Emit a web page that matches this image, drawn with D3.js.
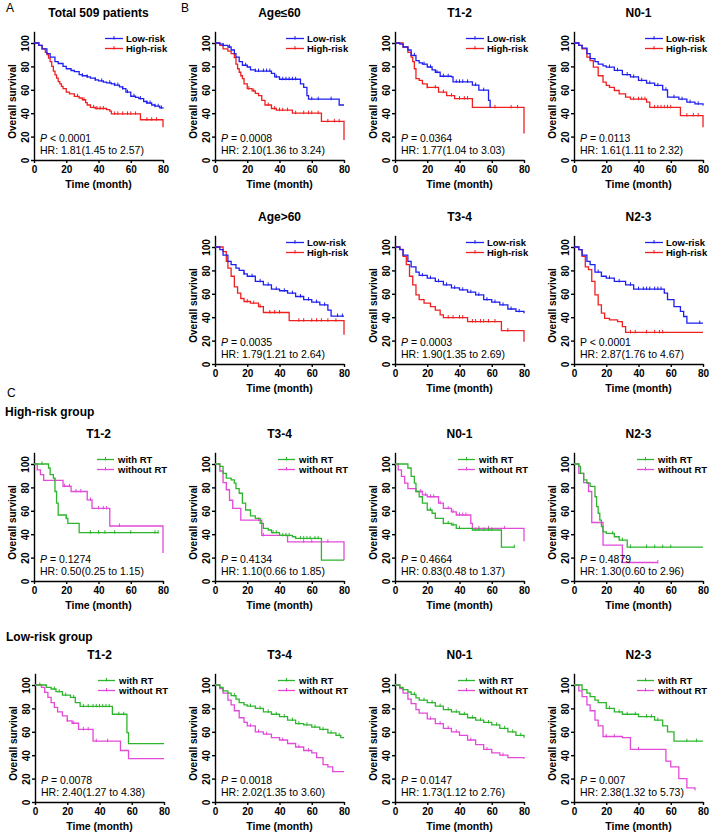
<!DOCTYPE html>
<html>
<head>
<meta charset="utf-8">
<script src="https://cdn.jsdelivr.net/npm/d3@7"></script>
<style>
body { margin: 0; background: #fff; }
text { font-family: "Liberation Sans", Arial, sans-serif; }
</style>
</head>
<body>
<div id="chart"></div>
<script>
// tick values
var xTicks = [0, 20, 40, 60, 80];
var yTicks = [0, 20, 40, 60, 80, 100];

// A: all patients (time in months, survival %)
var aLow = [[0,100],[3,98],[5,95],[8,91],[10,88],[13,84],[15,82.5],[18,80],[20,78],[23,76.5],[25,75.5],[28,73],[30,72],[33,71],[35,70],[38,68.5],[40,67.6],[43,66.5],[45,66],[48,65],[50,64],[53,62.5],[55,61],[57,58],[60,54.5],[63,53.5],[65,52.5],[68,50],[70,48.7],[73,47],[75,46],[78,44.5],[80,44]];
var aHigh = [[0,100],[3,98],[5,95],[7,92],[8,90],[9,87],[10,84],[11,80],[12,76],[13,72.7],[14,70],[15,67],[16,65],[17,63],[18,61],[20,58],[22,56.5],[25,54.4],[28,53],[30,51.5],[32,49],[33,47],[35,45],[38,44],[45,43],[47,41.7],[48,39.4],[66,34.4],[80,28]];
var aLowCens = [30,33,38,42,47,50,52,55,58,62,66,70,72,75,77,79];
var aHighCens = [27,31,37,39,41,43,50,52,55,58,60,63,70,73,76];

// B: Age<=60
var b1Low = [[0,100],[3,99],[5,98],[8,96.6],[10,94],[12,91],[13,88],[15,84],[17,81],[20,79.5],[22,77],[25,76],[35,74],[37,71],[40,69],[53,65],[55,62],[57,55],[58,52],[77,47],[80,47]];
var b1High = [[0,100],[3,98],[5,95],[8,93],[10,91],[12,87.5],[13,82],[14,78],[15,75],[16,72],[17,69.6],[18,65],[20,61],[23,59],[25,57],[27,55],[29,51],[31,47],[35,44],[38,42.6],[48,40],[66,33],[80,17]];
var b1LowCens = [5,9,19,25,27,30,32,34,38,42,44,46,48,50,60,64,72];
var b1HighCens = [21,24,33,37,40,42,45,50,55,58,60,64,70,74,77];

// B: T1-2
var b2Low = [[0,100],[3,99],[5,96.6],[8,94],[10,89.5],[13,85],[15,83],[17,82],[20,79.5],[23,77],[25,75],[28,71.6],[35,71],[36,66.8],[48,64],[52,59.7],[58,51],[59,44.9]];
var b2High = [[0,100],[5,96.6],[8,92],[10,88],[11,84],[12,78],[13,69.6],[15,68],[17,65],[20,62],[27,58],[32,55],[37,52.5],[48,44.9],[80,22.7]];
var b2LowCens = [12,18,22,26,30,33,38,40,42,45,50,55];
var b2HighCens = [20,25,30,35,40,43,45,62,72,76];

// B: N0-1
var b3Low = [[0,100],[3,98],[5,95.7],[8,91],[10,86.6],[13,84],[15,82],[18,80.5],[20,79.4],[25,76.6],[30,73],[35,71],[40,68],[45,65.7],[50,63.7],[55,60],[58,53.7],[65,52],[70,49.4],[75,48],[80,46.6]];
var b3High = [[0,100],[3,98],[5,95],[8,88],[10,85],[12,79.4],[15,72],[18,66.6],[20,63.7],[22,62],[25,59.4],[28,56.6],[32,53.7],[35,52],[45,49.4],[47,45],[66,38],[80,28]];
var b3LowCens = [22,27,33,37,42,47,52,57,62,67,72,77];
var b3HighCens = [37,40,42,44,50,52,54,56,58,60,70,74,77];

// B: Age>60
var b4Low = [[0,100],[3,97.7],[5,93],[8,87.7],[10,85],[13,82],[15,80],[18,77],[20,75],[25,70.6],[30,67.7],[35,64],[40,62.6],[45,60.6],[50,57.7],[55,55],[60,52.9],[65,50.6],[70,46],[72,41],[80,41]];
var b4High = [[0,100],[3,100],[5,96],[7,87.7],[8,82],[10,75],[12,66],[14,60.6],[16,56],[18,53.4],[22,52],[27,49],[30,44],[46,37],[80,25]];
var b4LowCens = [18,23,28,33,38,43,48,53,58,63,68,76,79];
var b4HighCens = [20,24,28,34,37,40,52,55,60,63,66,70,75];

// B: T3-4
var b5Low = [[0,100],[3,97.7],[5,93],[8,87.7],[10,83],[13,78.6],[15,75.7],[20,73.4],[25,70.6],[30,67.7],[35,65],[40,63.4],[45,61.4],[50,59],[55,55],[60,52.9],[65,50.6],[70,47],[75,45],[80,43.4]];
var b5High = [[0,100],[3,98],[5,92],[7,85],[9,75],[11,67.7],[13,59],[15,55],[18,52],[22,49],[25,46],[28,42],[30,39.7],[45,36.3],[66,28.6],[80,19]];
var b5LowCens = [17,22,27,32,37,42,47,52,57,62,67,72,77];
var b5HighCens = [33,36,40,42,48,50,53,55,58,62,70];

// B: N2-3
var b6Low = [[0,100],[3,97.7],[5,93],[8,87.7],[10,85],[13,78.6],[17,75],[20,73.4],[25,70.6],[32,67.7],[37,64],[56,60.6],[58,55],[62,49],[66,45],[68,40.6],[70,35],[80,35]];
var b6High = [[0,100],[3,97.7],[5,92],[7,83],[9,80.6],[11,70.6],[13,59],[15,50.6],[17,43.4],[19,39],[22,37.7],[27,36.3],[30,32],[32,27],[80,27]];
var b6LowCens = [15,22,28,35,40,43,45,47,50,52,54,78];
var b6HighCens = [35,38,45,50,53,55];

// C: high-risk group, with RT / without RT
var h1With = [[0,100],[8,100],[9,96.6],[10,91],[12,88],[13,76.5],[14,66.5],[15,56.4],[20,53.6],[21,49.3],[28,41.3],[77,41.3]];
var h1Without = [[0,100],[2,95],[4,91],[6,86],[18,81],[23,76.5],[33,69.3],[36,62],[47,47],[80,24]];
var h1WithCens = [5,20,35,40,44,50,60,75,77];
var h1WithoutCens = [13,19,22,26,29,35,40,43,45,53];

var h2With = [[0,100],[3,98],[5,92],[7,88],[10,86.5],[12,83.7],[13,79],[15,75],[17,66.5],[19,60.7],[22,55.6],[25,53.6],[28,49.3],[30,45],[33,43.6],[35,41.3],[40,39],[48,37.8],[50,36.4],[66,17.8],[80,17.8]];
var h2Without = [[0,100],[3,94],[5,84],[7,78],[9,69],[11,62],[16,52],[29,39],[45,33.5],[80,17.8]];
var h2WithCens = [36,38,42,44,46,53,55,57,59,62,64];
var h2WithoutCens = [27,30,55,60,70];

var h3With = [[0,100],[8,96.6],[10,89.4],[12,83.7],[13,76.5],[15,72],[17,66.5],[20,60.7],[23,57.9],[25,53.6],[30,49.3],[35,47.9],[38,45],[48,43.6],[66,29],[74,29]];
var h3Without = [[0,100],[2,95],[4,89.4],[6,83.7],[8,79],[13,76.5],[17,73.6],[20,72],[27,66.5],[30,62],[35,59],[38,56.4],[47,49.3],[48,45],[80,34]];
var h3WithCens = [22,30,33,36,40,50,52,55,58,60,74];
var h3WithoutCens = [16,19,22,24,28,33,36,40,42,44,52,58,68];

var h4With = [[0,100],[3,98],[4,92],[6,86.5],[8,83.7],[10,80.8],[13,72],[14,63.6],[15,57.9],[16,52],[17,46.6],[18,42],[20,40.7],[25,37.8],[28,35],[33,29],[80,29]];
var h4Without = [[0,100],[3,92],[6,84],[9,76.5],[11,50],[18,30.7],[30,15.8],[52,15.8]];
var h4WithCens = [24,30,35,45,50,55,60];
var h4WithoutCens = [52];

// C: low-risk group
var l1With = [[0,100],[5,100],[7,98],[10,96.6],[13,94.3],[17,91.4],[22,89.4],[25,85],[28,81.7],[48,75],[57,59.3],[58,49.9],[80,49.9]];
var l1Without = [[0,100],[4,98],[6,93.7],[8,89.4],[10,85],[12,80.8],[14,77],[17,73.6],[20,69.3],[23,67.3],[27,62],[36,52],[53,44],[58,37],[80,37]];
var l1WithCens = [3,12,15,19,24,30,33,36,38,40,42,44,46,52,55];
var l1WithoutCens = [20,24,30,33,38,45];

var l2With = [[0,100],[3,98],[5,95],[8,93],[10,91],[13,88],[15,85],[18,83],[20,82],[25,80],[30,77],[35,75],[40,73],[45,70],[50,67],[55,66],[60,64],[65,62],[70,59],[75,57],[78,55],[80,55]];
var l2Without = [[0,100],[3,97],[5,93],[8,87],[10,83],[12,78],[15,72],[18,68],[20,65],[25,60],[30,58],[35,55],[40,53],[45,50],[50,47],[55,44],[60,42],[63,38],[67,32],[70,30],[73,26],[80,26]];
var l2WithCens = [12,22,28,33,38,43,48,52,57,62,67,72,77];
var l2WithoutCens = [22,27,32,42,52,58];

var l3With = [[0,100],[3,98],[5,96],[8,94],[10,92],[13,89],[15,87],[20,85],[25,82],[30,79],[35,77],[40,75],[45,72],[50,70],[55,68],[60,66],[65,63],[70,60],[75,57],[80,55]];
var l3Without = [[0,100],[3,97],[5,93],[8,88],[10,84],[13,79],[15,76],[20,71],[25,67],[30,63],[35,60],[40,57],[45,53],[50,49],[55,45],[60,42],[65,40],[70,38],[80,37]];
var l3WithCens = [12,18,23,28,33,38,43,48,53,58,63,68,73,78];
var l3WithoutCens = [22,28,33,38,47,57,67];

var l4With = [[0,100],[5,96],[8,93],[10,90],[13,87],[15,85],[20,80],[25,77],[30,75],[40,73],[50,70],[55,65],[58,60],[62,52],[80,52]];
var l4Without = [[0,100],[3,95],[5,90],[8,83],[10,78],[13,70],[15,65],[18,56],[30,55],[35,45],[55,45],[57,35],[60,30],[65,20],[70,12],[75,10]];
var l4WithCens = [22,28,33,38,45,48,52,70,76];
var l4WithoutCens = [20,25,40];

var riskNames = ["Low-risk", "High-risk"];
var rtNames = ["with RT", "without RT"];

var panels = [
  {x0: 34,  y0: 160, title: "Total 509 patients", names: riskNames, a: aLow, b: aHigh, ac: aLowCens, bc: aHighCens, p: "< 0.0001", hr: "1.81(1.45 to 2.57)"},
  {x0: 215, y0: 160, title: "Age\u226460", names: riskNames, a: b1Low, b: b1High, ac: b1LowCens, bc: b1HighCens, p: "= 0.0008", hr: "2.10(1.36 to 3.24)"},
  {x0: 395, y0: 160, title: "T1-2", names: riskNames, a: b2Low, b: b2High, ac: b2LowCens, bc: b2HighCens, p: "= 0.0364", hr: "1.77(1.04 to 3.03)"},
  {x0: 574, y0: 160, title: "N0-1", names: riskNames, a: b3Low, b: b3High, ac: b3LowCens, bc: b3HighCens, p: "= 0.0113", hr: "1.61(1.11 to 2.32)"},
  {x0: 215, y0: 364, title: "Age>60", names: riskNames, a: b4Low, b: b4High, ac: b4LowCens, bc: b4HighCens, p: "= 0.0035", hr: "1.79(1.21 to 2.64)"},
  {x0: 395, y0: 364, title: "T3-4", names: riskNames, a: b5Low, b: b5High, ac: b5LowCens, bc: b5HighCens, p: "= 0.0003", hr: "1.90(1.35 to 2.69)"},
  {x0: 574, y0: 364, title: "N2-3", names: riskNames, a: b6Low, b: b6High, ac: b6LowCens, bc: b6HighCens, p: "< 0.0001", hr: "2.87(1.76 to 4.67)", upright: true},
  {x0: 34,  y0: 581, title: "T1-2", names: rtNames, a: h1With, b: h1Without, ac: h1WithCens, bc: h1WithoutCens, p: "= 0.1274", hr: "0.50(0.25 to 1.15)"},
  {x0: 215, y0: 581, title: "T3-4", names: rtNames, a: h2With, b: h2Without, ac: h2WithCens, bc: h2WithoutCens, p: "= 0.4134", hr: "1.10(0.66 to 1.85)"},
  {x0: 395, y0: 581, title: "N0-1", names: rtNames, a: h3With, b: h3Without, ac: h3WithCens, bc: h3WithoutCens, p: "= 0.4664", hr: "0.83(0.48 to 1.37)"},
  {x0: 574, y0: 581, title: "N2-3", names: rtNames, a: h4With, b: h4Without, ac: h4WithCens, bc: h4WithoutCens, p: "= 0.4879", hr: "1.30(0.60 to 2.96)"},
  {x0: 35,  y0: 802, title: "T1-2", names: rtNames, a: l1With, b: l1Without, ac: l1WithCens, bc: l1WithoutCens, p: "= 0.0078", hr: "2.40(1.27 to 4.38)"},
  {x0: 215, y0: 802, title: "T3-4", names: rtNames, a: l2With, b: l2Without, ac: l2WithCens, bc: l2WithoutCens, p: "= 0.0018", hr: "2.02(1.35 to 3.60)"},
  {x0: 395, y0: 802, title: "N0-1", names: rtNames, a: l3With, b: l3Without, ac: l3WithCens, bc: l3WithoutCens, p: "= 0.0147", hr: "1.73(1.12 to 2.76)"},
  {x0: 574, y0: 802, title: "N2-3", names: rtNames, a: l4With, b: l4Without, ac: l4WithCens, bc: l4WithoutCens, p: "= 0.007", hr: "2.38(1.32 to 5.73)"}
];

var W = 129, H100 = 117;
var svg = d3.select("#chart").append("svg").attr("width", 709).attr("height", 835);

// survival value at time t (step function)
function stepAt(curve, t) {
  var s = curve[0][1];
  curve.forEach(function(d) { if (d[0] <= t) s = d[1]; });
  return s;
}

function drawPanel(p) {
  var isRT = p.names === rtNames;
  var colA = isRT ? "#2db52d" : "#1f1ff0";
  var colB = isRT ? "#e24ad8" : "#f02020";

  var x = d3.scaleLinear().domain([0, 80]).range([p.x0, p.x0 + W]);
  var y = d3.scaleLinear().domain([0, 110]).range([p.y0, p.y0 - H100 * 1.1]);
  var g = svg.append("g");

  var xa = g.append("g")
    .attr("transform", "translate(0," + p.y0 + ")")
    .call(d3.axisBottom(x).tickValues(xTicks).tickSize(3).tickSizeOuter(0).tickPadding(3));
  var ya = g.append("g")
    .attr("transform", "translate(" + p.x0 + ",0)")
    .call(d3.axisLeft(y).tickValues(yTicks).tickSize(3).tickSizeOuter(0));
  [xa, ya].forEach(function(a) {
    a.select(".domain").attr("stroke", "#000").attr("stroke-width", 1.4);
    a.selectAll(".tick line").attr("stroke", "#000").attr("stroke-width", 1.4);
    a.selectAll(".tick text").attr("fill", "#000")
      .style("font-size", "10px").style("font-weight", "bold")
      .style("font-family", "'Liberation Sans', Arial, sans-serif");
  });
  ya.selectAll(".tick text")
    .attr("x", null).attr("dy", null)
    .attr("text-anchor", "middle")
    .attr("transform", "translate(-5,0) rotate(-90)");

  // axis titles
  g.append("text")
    .attr("x", p.x0 + W / 2).attr("y", p.y0 + 24)
    .attr("text-anchor", "middle").attr("dominant-baseline", "central")
    .style("font-size", "10.5px").style("font-weight", "bold")
    .text("Time (month)");
  g.append("text")
    .attr("transform", "translate(" + (p.x0 - 22) + "," + y(50) + ") rotate(-90)")
    .attr("text-anchor", "middle").attr("dominant-baseline", "central")
    .style("font-size", "10px").style("font-weight", "bold")
    .text("Overall survival");

  // panel title
  g.append("text")
    .attr("x", p.x0 + W / 2).attr("y", p.y0 - 147)
    .attr("text-anchor", "middle").attr("dominant-baseline", "central")
    .style("font-size", "12px").style("font-weight", "bold")
    .text(p.title);

  var line = d3.line().curve(d3.curveStepAfter)
    .x(function(d) { return x(d[0]); })
    .y(function(d) { return y(d[1]); });

  [[p.b, p.bc, colB], [p.a, p.ac, colA]].forEach(function(s) {
    g.append("path").datum(s[0])
      .attr("fill", "none").attr("stroke", s[2]).attr("stroke-width", 1.3)
      .attr("d", line);
    g.selectAll(null).data(s[1]).enter().append("line")
      .attr("x1", function(t) { return x(t); })
      .attr("x2", function(t) { return x(t); })
      .attr("y1", function(t) { return y(stepAt(s[0], t)) - 2.5; })
      .attr("y2", function(t) { return y(stepAt(s[0], t)) + 1; })
      .attr("stroke", s[2]).attr("stroke-width", 1);
  });

  // legend
  var lx1 = isRT ? 63 : 71, lx2 = isRT ? 80 : 89, lt = isRT ? 84 : 92;
  [[p.names[0], colA, -4.5], [p.names[1], colB, 5.5]].forEach(function(l) {
    var ly = y(100) + l[2];
    g.append("line").attr("x1", p.x0 + lx1).attr("x2", p.x0 + lx2)
      .attr("y1", ly).attr("y2", ly).attr("stroke", l[1]).attr("stroke-width", 1.3);
    g.append("line").attr("x1", p.x0 + (lx1 + lx2) / 2).attr("x2", p.x0 + (lx1 + lx2) / 2)
      .attr("y1", ly - 2.5).attr("y2", ly + 1).attr("stroke", l[1]).attr("stroke-width", 1);
    g.append("text").attr("x", p.x0 + lt).attr("y", ly)
      .attr("dominant-baseline", "central")
      .style("font-size", "9.5px").style("font-weight", "bold")
      .text(l[0]);
  });

  // statistics
  var pt = g.append("text").attr("x", p.x0 + 6).attr("y", p.y0 - 22)
    .attr("dominant-baseline", "central").style("font-size", "10.5px");
  pt.append("tspan").style("font-style", p.upright ? "normal" : "italic").text("P");
  pt.append("tspan").text(" " + p.p);
  g.append("text").attr("x", p.x0 + 6).attr("y", p.y0 - 10)
    .attr("dominant-baseline", "central").style("font-size", "10.5px")
    .text("HR: " + p.hr);
}

panels.forEach(drawPanel);

// section labels
svg.append("text").attr("x", 6).attr("y", 12).style("font-size", "12px").text("A");
svg.append("text").attr("x", 181).attr("y", 12).style("font-size", "12px").text("B");
svg.append("text").attr("x", 7).attr("y", 397).style("font-size", "12px").text("C");
svg.append("text").attr("x", 5).attr("y", 416).style("font-size", "12px").style("font-weight", "bold").text("High-risk group");
svg.append("text").attr("x", 6).attr("y", 641).style("font-size", "12px").style("font-weight", "bold").text("Low-risk group");
</script>
</body>
</html>
